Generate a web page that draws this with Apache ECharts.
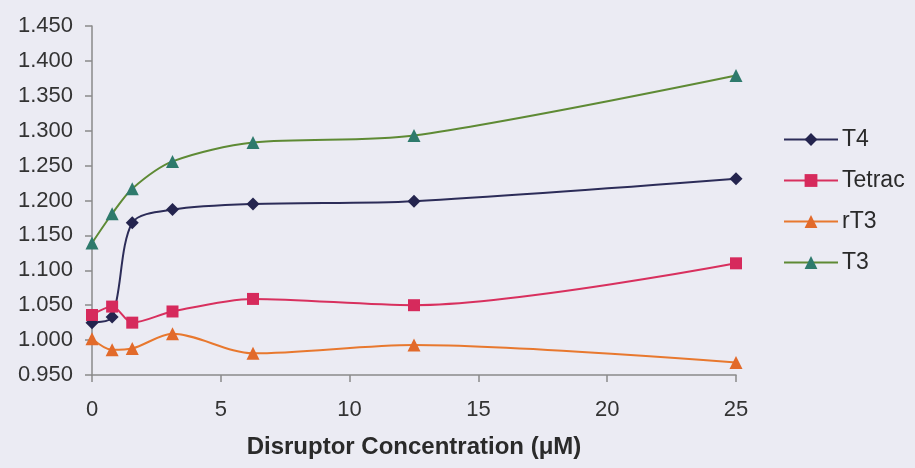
<!DOCTYPE html>
<html>
<head>
<meta charset="utf-8">
<script src="https://cdn.jsdelivr.net/npm/echarts@6/dist/echarts.min.js"></script>
<style>
  html, body { margin: 0; padding: 0; background: #ebebf3; }
  #chart { width: 915px; height: 468px; }
</style>
</head>
<body>
<div id="chart"></div>
<script>
// Disruptor concentrations (µM), two-fold dilution series
const concentrations = [0, 0.78125, 1.5625, 3.125, 6.25, 12.5, 25];

// Relative response for each ligand
const t4Values     = [1.025, 1.033, 1.168, 1.187, 1.195, 1.199, 1.231];
const tetracValues = [1.036, 1.048, 1.025, 1.041, 1.059, 1.050, 1.110];
const rt3Values    = [1.002, 0.986, 0.988, 1.009, 0.981, 0.993, 0.968];
const t3Values     = [1.139, 1.181, 1.217, 1.256, 1.283, 1.293, 1.379];

const seriesNames = ['T4', 'Tetrac', 'rT3', 'T3'];
const xTicks = [0, 5, 10, 15, 20, 25];

const pairs = vals => concentrations.map((c, i) => [c, vals[i]]);

function lineSeries(name, vals, lineColor, markColor, symbol, size) {
  return {
    name: name,
    type: 'line',
    data: pairs(vals),
    smooth: 0.3,
    symbol: symbol,
    symbolSize: size,
    lineStyle: { color: lineColor, width: 2 },
    itemStyle: { color: markColor, borderWidth: 0 },
    emphasis: { disabled: true }
  };
}

const chart = echarts.init(document.getElementById('chart'), null, { renderer: 'canvas' });

chart.setOption({
  backgroundColor: '#ebebf3',
  animation: false,
  textStyle: { fontFamily: 'Liberation Sans, Arial, sans-serif' },
  grid: { left: 92, right: 179, top: 26, bottom: 93, containLabel: false },
  legend: {
    orient: 'vertical',
    left: 778,
    top: 123,
    itemWidth: 54,
    itemHeight: 16,
    itemGap: 18,
    data: seriesNames,
    textStyle: { fontSize: 23, color: '#2a2a2a', padding: [0, 0, 0, -1] }
  },
  xAxis: {
    type: 'value',
    min: 0,
    max: 25,
    interval: 5,
    name: 'Disruptor Concentration (\u03bcM)',
    nameLocation: 'middle',
    nameGap: 60,
    nameTextStyle: { fontSize: 24, fontWeight: 'bold', color: '#2a2a2a', fontFamily: 'Liberation Sans, Arial, sans-serif' },
    axisLine: { show: true, onZero: false, lineStyle: { color: '#8a8a8a', width: 1.5 } },
    axisTick: { show: true, length: 7, lineStyle: { color: '#8a8a8a', width: 1.5 } },
    axisLabel: {
      fontSize: 22, color: '#333', margin: 24,
      customValues: xTicks
    },
    splitLine: { show: false }
  },
  yAxis: {
    type: 'value',
    min: 0.95,
    max: 1.45,
    interval: 0.05,
    axisLine: { show: true, lineStyle: { color: '#8a8a8a', width: 1.5 } },
    axisTick: { show: true, length: 7, lineStyle: { color: '#8a8a8a', width: 1.5 } },
    axisLabel: {
      fontSize: 22, color: '#333', margin: 19,
      formatter: v => v.toFixed(3)
    },
    splitLine: { show: false }
  },
  series: [
    lineSeries('T4', t4Values, '#2c2c58', '#24244e', 'diamond', 13),
    lineSeries('Tetrac', tetracValues, '#d8305e', '#d62a5c', 'rect', 12),
    lineSeries('rT3', rt3Values, '#e8782e', '#e26a2a', 'triangle', 13),
    lineSeries('T3', t3Values, '#5e8a34', '#2e7a6c', 'triangle', 13)
  ]
});
</script>
</body>
</html>
